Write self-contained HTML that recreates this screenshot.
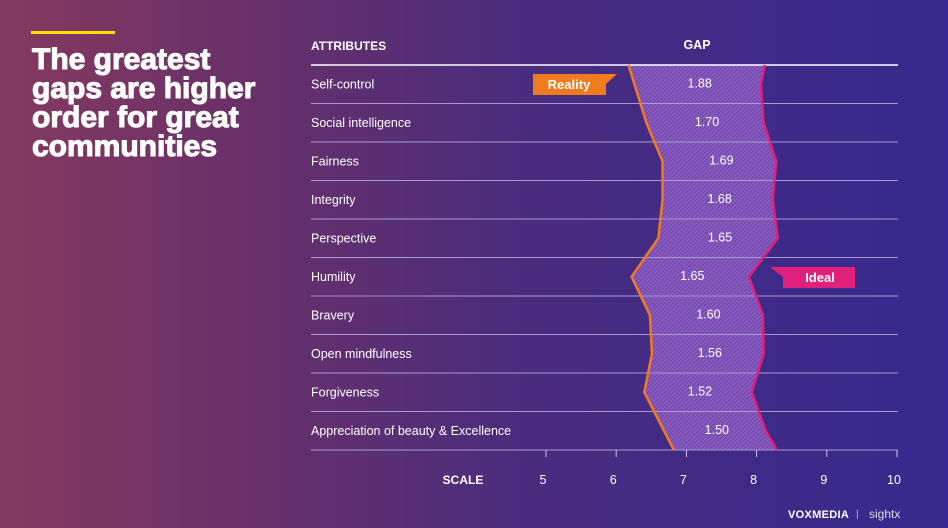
<!DOCTYPE html>
<html><head><meta charset="utf-8"><style>
html,body{margin:0;padding:0}
body{width:948px;height:528px;overflow:hidden;position:relative;font-family:"Liberation Sans",sans-serif;background:linear-gradient(90deg,#853a5f 0%,#6a3068 25%,#4a2c7e 55%,#35298f 100%);color:#fff}
.t{position:absolute}
</style></head><body>
<div class="t" style="left:31px;top:31px;width:84px;height:3px;background:#ffe000"></div>
<div class="t" style="left:32px;top:45px;font-size:30px;font-weight:bold;line-height:29px;letter-spacing:0px;-webkit-text-stroke:1.1px #fff">The greatest<br>gaps are higher<br>order for great<br>communities</div>
<svg class="t" style="left:0;top:0" width="948" height="528">
<defs><pattern id="hatch" width="3" height="3" patternUnits="userSpaceOnUse" patternTransform="rotate(45)"><rect width="3" height="3" fill="#8a5bc0"/><rect width="1" height="3" fill="#6b44a8"/></pattern></defs>
<g id="g"></g>
</svg>
<div class="t" style="left:788px;top:509px;font-size:11px;font-weight:bold;letter-spacing:0.3px">VOXMEDIA</div>
<div class="t" style="left:856px;top:509px;font-size:10px;color:#bbb">|</div>
<div class="t" style="left:869px;top:507px;font-size:12px;color:#ddd">sightx</div>
<script>
const categories=["Self-control","Social intelligence","Fairness","Integrity","Perspective","Humility","Bravery","Open mindfulness","Forgiveness","Appreciation of beauty & Excellence"];
const reality=[6.26,6.43,6.66,6.66,6.6,6.22,6.48,6.51,6.4,6.68];
const ideal=[8.06,8.1,8.28,8.23,8.3,7.89,8.09,8.1,7.93,8.13];
const gaps=["1.88","1.70","1.69","1.68","1.65","1.65","1.60","1.56","1.52","1.50"];
const ticks=[5,6,7,8,9,10];
const NS="http://www.w3.org/2000/svg";
const g=document.getElementById('g');
const x=v=>546+(v-5)*70.2;
const top0=65,rowH=38.5;
const y=i=>top0+rowH*(i+0.5);
function mk(t,a){const e=document.createElementNS(NS,t);for(const k in a)e.setAttribute(k,a[k]);g.appendChild(e);return e;}
function txt(s,a){const e=mk('text',a);e.textContent=s;return e;}
const n=categories.length;
let rp=[[x(reality[0])-6,top0]];reality.forEach((v,i)=>rp.push([x(v),y(i)]));rp.push([x(reality[n-1])+10,top0+rowH*n]);
let ip=[[x(ideal[0])+4,top0]];ideal.forEach((v,i)=>ip.push([x(v),y(i)]));ip.push([x(ideal[n-1])+11,top0+rowH*n]);
const band=mk('polygon',{points:rp.concat(ip.slice().reverse()).map(p=>p.join(',')).join(' '),fill:'url(#hatch)'});


for(let i=0;i<=n;i++){const l=mk('line',{x1:311,x2:898,y1:top0+rowH*i,y2:top0+rowH*i,stroke:i==0?'#fff':'#a89ad0','stroke-width':i==0?1.5:1});

}
const rl=mk('polyline',{points:rp.map(p=>p.join(',')).join(' '),fill:'none',stroke:'#f07a1e','stroke-width':2.5});


const il=mk('polyline',{points:ip.map(p=>p.join(',')).join(' '),fill:'none',stroke:'#e0207a','stroke-width':2.5});


categories.forEach((c,i)=>{const t=txt(c,{x:311,y:y(i)+4,'font-size':12.5,fill:'#fff'});


const gl=txt(gaps[i],{x:(x(reality[i])+x(ideal[i]))/2+2,y:y(i)+3,'font-size':12.5,fill:'#fff','text-anchor':'middle'});

});
ticks.forEach(v=>{const l=mk('line',{x1:x(v),x2:x(v),y1:450,y2:457,stroke:'#d0c8e8'});


const t=txt(v,{x:x(v)-3,y:484,'font-size':12.5,fill:'#fff','text-anchor':'middle'});

});
const h1=txt('ATTRIBUTES',{x:311,y:50,'font-size':12,'font-weight':'bold',fill:'#fff'});


const h2=txt('GAP',{x:697,y:49,'font-size':12.5,'font-weight':'bold',fill:'#fff','text-anchor':'middle'});


const sc=txt('SCALE',{x:463,y:484,'font-size':12,'font-weight':'bold',fill:'#fff','text-anchor':'middle'});


const rt=mk('polygon',{points:'533,74 617,74 606,84 606,95 533,95',fill:'#f07a1e'});


const rtx=txt('Reality',{x:569,y:89,'font-size':13,'font-weight':'bold',fill:'#fff','text-anchor':'middle'});


const it=mk('polygon',{points:'770,267 855,267 855,288 783,288 783,277',fill:'#e0207a'});


const itx=txt('Ideal',{x:820,y:282,'font-size':13,'font-weight':'bold',fill:'#fff','text-anchor':'middle'});


</script>
</body></html>
